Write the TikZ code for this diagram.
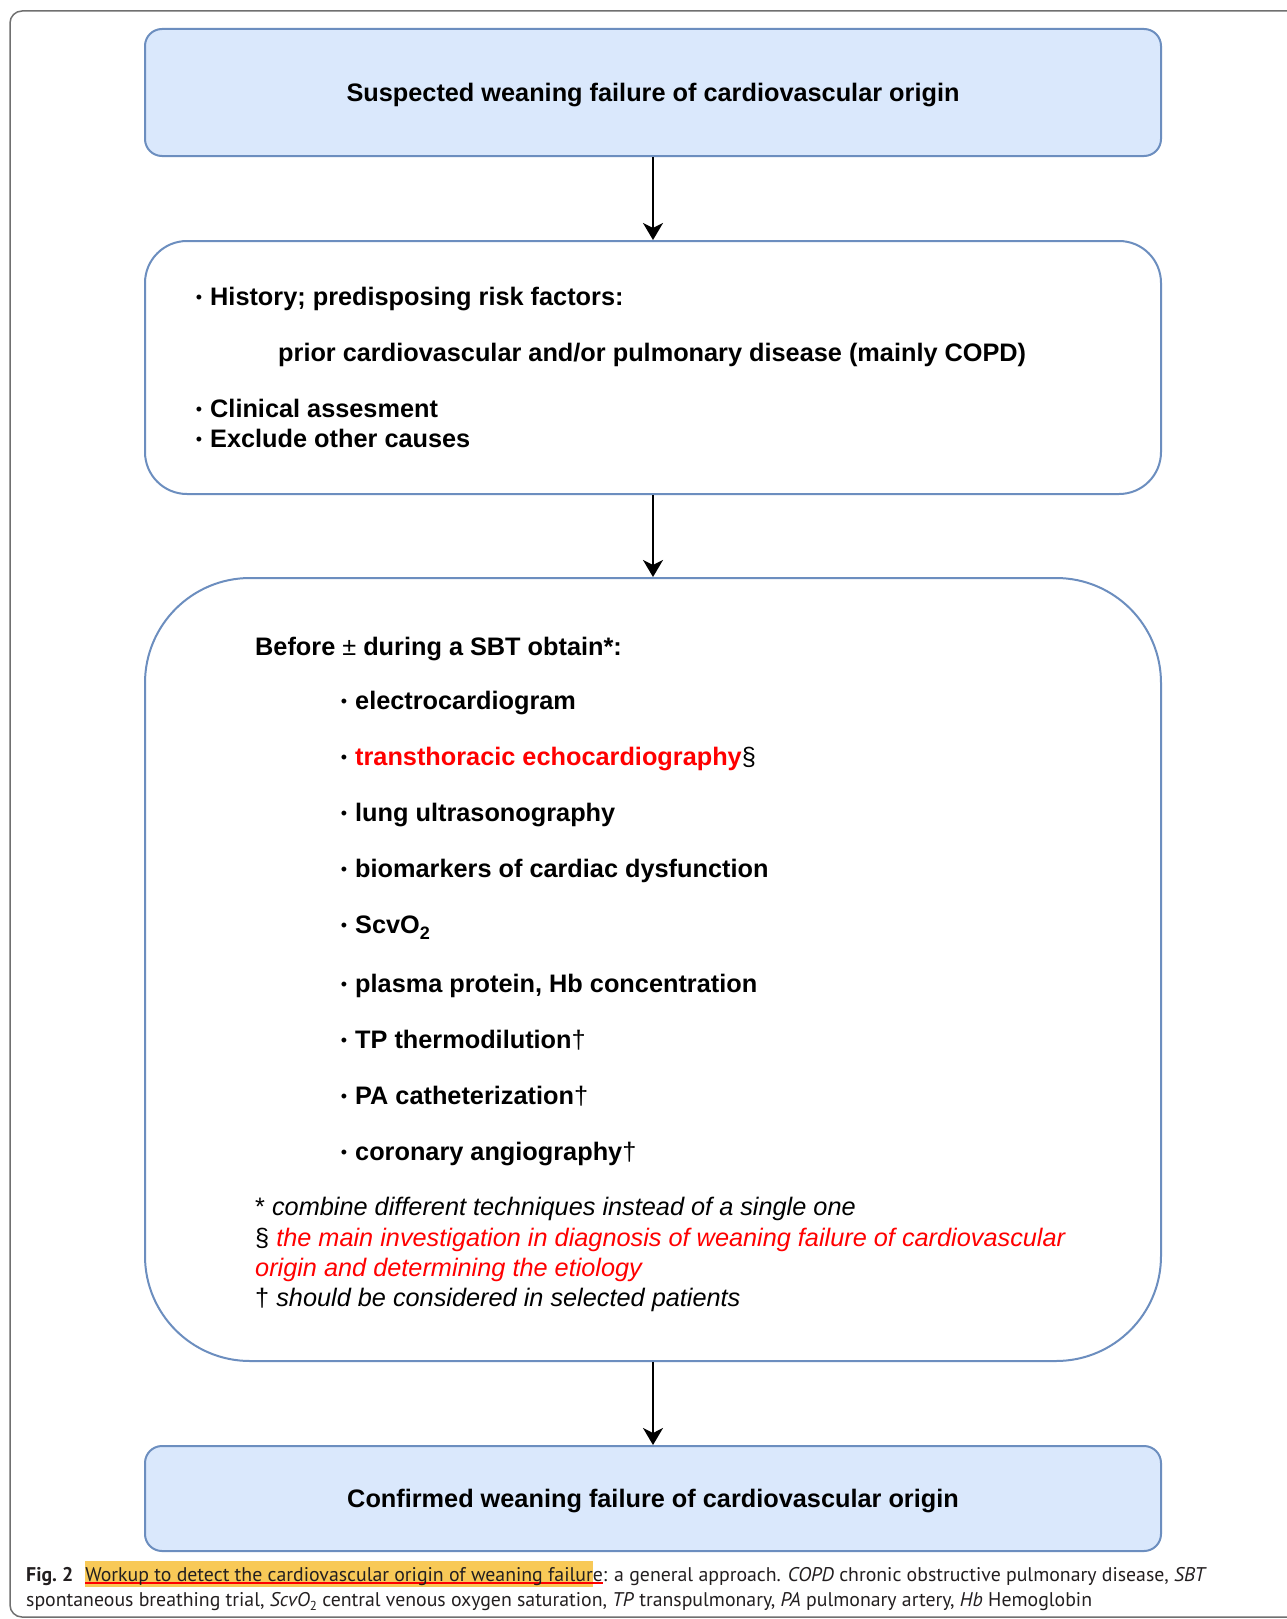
\documentclass[tikz,border=0pt]{standalone}
\usepackage{fontspec}
\setmainfont{Liberation Sans}
\newfontfamily\capfont{PT Sans}
\usetikzlibrary{arrows.meta}
\definecolor{boxfill}{HTML}{DAE8FC}
\definecolor{boxdraw}{HTML}{6C8EBF}
\definecolor{hl}{HTML}{F8C957}
\definecolor{framec}{HTML}{707070}
\definecolor{captxt}{HTML}{231F20}
\definecolor{rd}{HTML}{FF0000}
\newcommand{\bul}{\llap{{\fontsize{18}{18}\selectfont\mdseries\raisebox{2pt}{•}}\hspace{8pt}}}
\newcommand{\hlpart}{%
  \setbox0=\hbox{Workup to detect the cardiovascular origin of weaning failur}%
  \setbox2=\hbox{Workup to detect the cardiovascular origin of weaning failure}%
  \rlap{\color{hl}\rule[-6pt]{\wd0}{26pt}}%
  \rlap{\color{rd}\rule[-3pt]{\wd2}{1.6pt}}%
  \box2}
\begin{document}
\begin{tikzpicture}[x=1pt,y=-1pt,
  box/.style={draw=boxdraw, line width=2pt, minimum width=1016pt, inner sep=0pt},
  bluebox/.style={box, fill=boxfill, rounded corners=17pt, text depth=0pt, font=\fontsize{25.3}{30}\selectfont\bfseries},
  txt/.style={anchor=base west, inner sep=0pt, font=\fontsize{25.3}{30}\selectfont\bfseries},
  note/.style={anchor=base west, inner sep=0pt, font=\fontsize{25.3}{30}\selectfont\itshape},
  arr/.style={line width=2pt, -{Stealth[length=17pt,width=20pt,inset=5pt]}},
  captext/.style={anchor=base west, inner sep=0pt, font=\capfont\fontsize{19.8}{24}\selectfont, text=captxt}]
\clip (0,0) rectangle (1287,1619);
\fill[white] (0,0) rectangle (1287,1619);
\draw[framec, line width=1.5pt, rounded corners=12pt] (10,11) rectangle (1340,1617);

% boxes
\node[bluebox, minimum height=127pt] (top) at (653,92.5) {Suspected weaning failure of cardiovascular origin};
\node[box, fill=white, rounded corners=42pt, minimum height=253pt] (hist) at (653,367.5) {};
\node[box, fill=white, rounded corners=105pt, minimum height=783pt] (sbt) at (653,969.5) {};
\node[bluebox, minimum height=105pt] (conf) at (653,1498.5) {Confirmed weaning failure of cardiovascular origin};

% arrows
\draw[arr] (top.south) -- (hist.north);
\draw[arr] (hist.south) -- (sbt.north);
\draw[arr] (sbt.south) -- (conf.north);

% box 2 text
\node[txt] (h1) at (210,305) {\bul History; predisposing risk factors:};
\node[txt] (h2) at (278,361) {prior cardiovascular and/or pulmonary disease (mainly COPD)};
\node[txt] (h3) at (210,417) {\bul Clinical assesment};
\node[txt] (h4) at (210,447) {\bul Exclude other causes};

% box 3 text
\node[txt] (b0) at (255,655) {Before {\mdseries ±} during a SBT obtain*:};
\node[txt] (b1) at (355,709) {\bul electrocardiogram};
\node[txt] (b2) at (355,765) {\bul \textcolor{rd}{transthoracic echocardiography}{\mdseries§}};
\node[txt] (b3) at (355,821) {\bul lung ultrasonography};
\node[txt] (b4) at (355,877) {\bul biomarkers of cardiac dysfunction};
\node[txt] (b5) at (355,933) {\bul ScvO\raisebox{-6pt}{\fontsize{18}{18}\selectfont 2}};
\node[txt] (b6) at (355,992) {\bul plasma protein, Hb concentration};
\node[txt] (b7) at (355,1048) {\bul TP thermodilution{\mdseries†}};
\node[txt] (b8) at (355,1104) {\bul PA catheterization{\mdseries†}};
\node[txt] (b9) at (355,1160) {\bul coronary angiography{\mdseries†}};

\node[note] (n1) at (255,1215) {{\upshape*} combine different techniques instead of a single one};
\node[note] (n2) at (255,1246) {{\upshape§} \textcolor{rd}{the main investigation in diagnosis of weaning failure of cardiovascular}};
\node[note, text=rd] (n3) at (255,1276) {origin and determining the etiology};
\node[note] (n4) at (255,1306) {{\upshape†} should be considered in selected patients};

% caption
\node[captext] (cap1) at (26,1581) {\textbf{Fig.\ 2}\hspace{12pt}\hlpart: a general approach. \textit{COPD} chronic obstructive pulmonary disease, \textit{SBT}};
\node[captext] (cap2) at (26,1606) {spontaneous breathing trial, \textit{ScvO}\raisebox{-4pt}{\fontsize{13}{13}\selectfont 2} central venous oxygen saturation, \textit{TP} transpulmonary, \textit{PA} pulmonary artery, \textit{Hb} Hemoglobin};
\end{tikzpicture}
\end{document}
